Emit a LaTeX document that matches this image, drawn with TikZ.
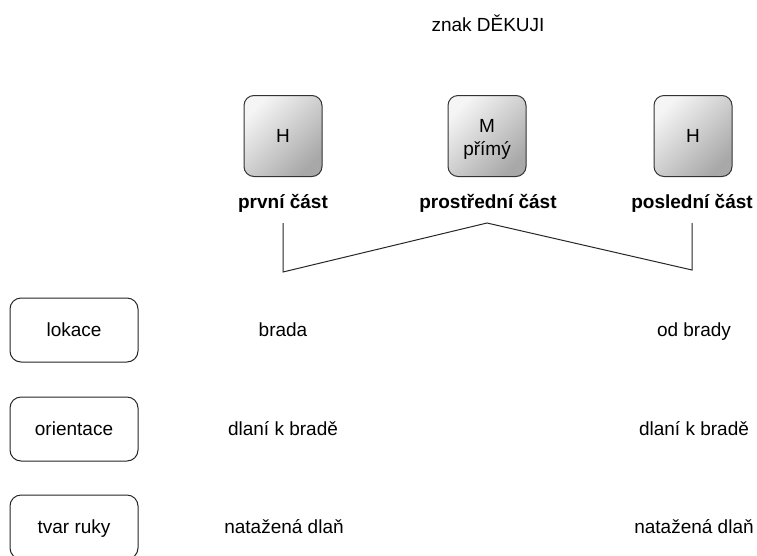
\documentclass[tikz,border=0pt]{standalone}
\usepackage{fontspec}
\setmainfont{Liberation Sans}
\begin{document}
\begin{tikzpicture}[x=1pt,y=-1pt,
  every node/.style={font=\fontsize{19}{23}\selectfont, inner sep=0pt},
  txt/.style={text height=13.5pt, text depth=0pt},
  partbox/.style={draw=black!80, line width=1pt, rounded corners=10pt,
    minimum width=78pt, minimum height=81pt, shading=axis,
    top color=black!4, bottom color=black!34, shading angle=45, align=center},
  rowbox/.style={draw=black!85, line width=1pt, rounded corners=11pt, fill=white,
    minimum width=128pt, minimum height=64pt, text height=13.5pt, text depth=0pt},
  partlabel/.style={txt, font=\fontsize{19}{23}\selectfont\bfseries},
  conn/.style={draw=black!85, line width=1pt}
]
\useasboundingbox (0,0) rectangle (757,555);
\clip (0,0) rectangle (757,555);
\node[txt] (title) at (488,25) {znak DĚKUJI};
\node[partbox, txt] (h1) at (283,136) {H};
\node[partbox] (m) at (487,136) {};
\node[align=center] (mtext) at (m.center) [yshift=-3pt] {M\\přímý};
\node[partbox, txt] (h2) at (693,136) {H};
\node[partlabel] (l1) at (283,202) {první část};
\node[partlabel] (l2) at (488,202) {prostřední část};
\node[partlabel] (l3) at (692,202) {poslední část};
\coordinate (a1) at (283,223);
\coordinate (a2) at (283,272);
\coordinate (pk) at (487,223);
\coordinate (b2) at (692,270);
\coordinate (b1) at (692,223);
\draw[conn] (a1) -- (a2) -- (pk) -- (b2) -- (b1);
\node[rowbox] (r1) at (74,330) {lokace};
\node[rowbox] (r2) at (74,429) {orientace};
\node[rowbox] (r3) at (74,527) {tvar ruky};
\node[txt] (t11) at (283,330) {brada};
\node[txt] (t12) at (694,330) {od brady};
\node[txt] (t21) at (283,429) {dlaní k bradě};
\node[txt] (t22) at (694,429) {dlaní k bradě};
\node[txt] (t31) at (284,527) {natažená dlaň};
\node[txt] (t32) at (694,527) {natažená dlaň};
\end{tikzpicture}
\end{document}
